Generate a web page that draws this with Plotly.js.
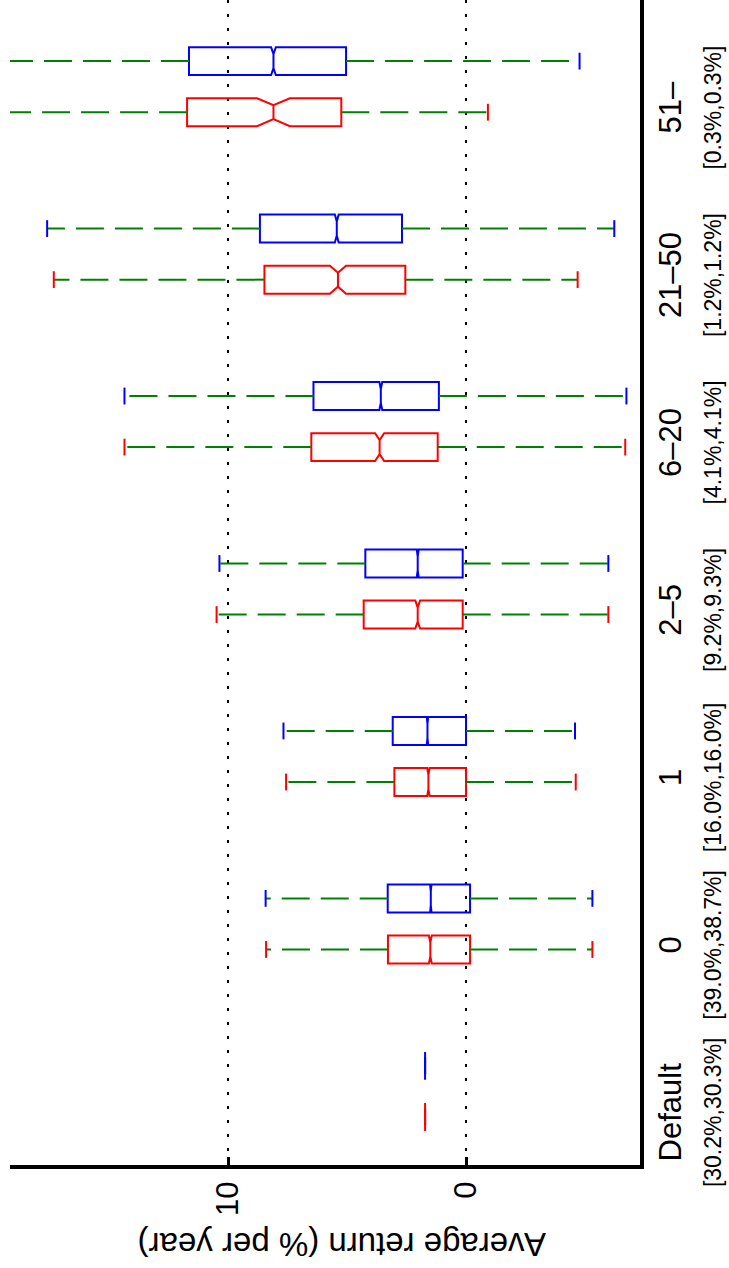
<!DOCTYPE html>
<html><head><meta charset="utf-8">
<script src="https://cdn.plot.ly/plotly-3.0.1.min.js"></script>
<style>html,body{margin:0;padding:0;background:#fff}</style>
</head><body><div id="chart" style="width:729px;height:1268px"></div>
<script>
// Categories (number of something) and shares shown under each label
const categories = ['Default', '0', '1', '2\u20135', '6\u201320', '21\u201350', '51\u2013'];
const shares = ['[30.2%,30.3%]', '[39.0%,38.7%]', '[16.0%,16.0%]', '[9.2%,9.3%]', '[4.1%,4.1%]', '[1.2%,1.2%]', '[0.3%,0.3%]'];
const returnTicks = [0, 10];

// Red series (notched boxes)
const redLower  = [1.72, -5.31, -4.61, -5.98, -6.69, -4.69, -0.92];
const redQ1     = [1.72, -0.17,  0.00,  0.14,  1.19,  2.55,  5.24];
const redMedian = [1.72,  1.50,  1.58,  2.03,  3.63,  5.38,  8.09];
const redQ3     = [1.72,  3.28,  3.01,  4.30,  6.50,  8.47, 11.72];
const redUpper  = [1.72,  8.40,  7.56, 10.48, 14.35, 17.32, 21.50];
const redNotch  = [0.00,  0.06,  0.05,  0.10,  0.19,  0.34,  0.69];

// Blue series
const blueLower  = [1.72, -5.31, -4.58, -5.98, -6.74, -6.23, -4.77];
const blueQ1     = [1.72, -0.17,  0.00,  0.14,  1.14,  2.69,  5.04];
const blueMedian = [1.72,  1.48,  1.62,  2.03,  3.58,  5.43,  8.09];
const blueQ3     = [1.72,  3.29,  3.08,  4.23,  6.41,  8.66, 11.64];
const blueUpper  = [1.72,  8.42,  7.67, 10.36, 14.35, 17.60, 21.50];
const blueNotch  = [0.00,  0.03,  0.03,  0.04,  0.06,  0.08,  0.10];

const BLUE_OFFSET = 0.305;
const redPos = categories.map((c, i) => i);
const bluePos = categories.map((c, i) => i + BLUE_OFFSET);

const RED = '#ff0000', BLUE = '#0000ff', GREEN = '#008000';

function whiskerTrace(pos, lo, q1, q3, hi) {
  const x = [], y = [];
  pos.forEach((p, i) => {
    x.push(q3[i], hi[i], null, q1[i], lo[i], null);
    y.push(p, p, null, p, p, null);
  });
  return {type: 'scatter', mode: 'lines', x: x, y: y, connectgaps: false,
    line: {color: GREEN, width: 2, dash: '28px,11px'}, hoverinfo: 'skip', showlegend: false};
}
function capTrace(pos, lo, hi, color) {
  const x = [], y = [];
  pos.forEach((p, i) => { x.push(lo[i], hi[i]); y.push(p, p); });
  return {type: 'scatter', mode: 'markers', x: x, y: y,
    marker: {symbol: 'line-ns', size: 12, color: color, line: {color: color, width: 2}},
    hoverinfo: 'skip', showlegend: false};
}
function boxTrace(pos, q1, med, q3, notch, color) {
  return {type: 'box', orientation: 'h', y: pos, q1: q1, median: med, q3: q3,
    lowerfence: q1, upperfence: q3, notched: true, notchspan: notch, notchwidth: 0.25,
    width: 0.167, whiskerwidth: 0, boxpoints: false,
    line: {color: color, width: 2}, fillcolor: 'rgba(0,0,0,0)', hoverinfo: 'skip', showlegend: false};
}

const data = [
  whiskerTrace(redPos, redLower, redQ1, redQ3, redUpper),
  whiskerTrace(bluePos, blueLower, blueQ1, blueQ3, blueUpper),
  capTrace(redPos, redLower, redUpper, RED),
  capTrace(bluePos, blueLower, blueUpper, BLUE),
  boxTrace(redPos, redQ1, redMedian, redQ3, redNotch, RED),
  boxTrace(bluePos, blueQ1, blueMedian, blueQ3, blueNotch, BLUE)
];

const layout = {
  width: 729, height: 1268,
  margin: {l: 10, r: 89, t: 0, b: 103, pad: 0},
  paper_bgcolor: '#ffffff', plot_bgcolor: '#ffffff',
  showlegend: false, boxmode: 'overlay',
  font: {family: "'Liberation Sans', Arial, Helvetica, sans-serif", color: '#000'},
  xaxis: {
    range: [19.16, -7.31], autorange: false,
    tickvals: returnTicks, ticktext: returnTicks.map(String), tickangle: -90,
    ticks: 'inside', ticklen: 8, tickwidth: 3, tickcolor: '#000',
    showline: true, linewidth: 4, linecolor: '#000',
    showgrid: true, gridcolor: '#000', gridwidth: 2.5, griddash: '2.5px,11.5px',
    zeroline: false, tickfont: {size: 31, color: '#000'}
  },
  yaxis: {
    range: [-0.287, 6.67], autorange: false, side: 'right',
    tickvals: redPos,
    ticktext: categories.map((c, i) => c + '<br><span style="font-size:23px">' + shares[i] + '</span>'),
    tickangle: -90, ticks: '', showline: true, linewidth: 4, linecolor: '#000',
    showgrid: false, zeroline: false, tickfont: {size: 31, color: '#000'}
  },
  annotations: [{
    text: 'Average return (% per year)', textangle: 180,
    xref: 'paper', yref: 'paper', x: 0.527, y: 0, yshift: -80,
    xanchor: 'center', yanchor: 'middle', showarrow: false,
    font: {size: 33, color: '#000'}
  }]
};

Plotly.newPlot('chart', data, layout, {staticPlot: true, displayModeBar: false});
</script>
</body></html>
